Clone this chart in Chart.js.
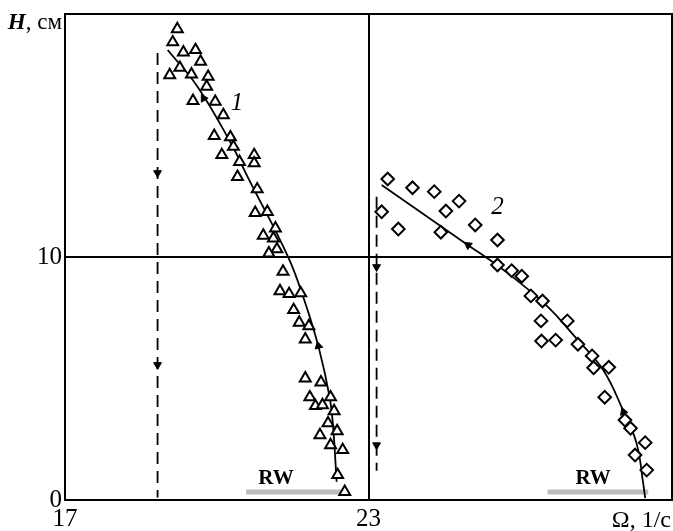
<!DOCTYPE html>
<html>
<head>
<meta charset="utf-8">
<script src="https://cdn.jsdelivr.net/npm/chart.js@4"></script>
<style>
  html, body { margin: 0; padding: 0; background: #fff; }
</style>
</head>
<body>
<canvas id="chart" width="673" height="531"></canvas>
<script>
// ===============================
// DATOS
// ===============================
const xTicks = [17, 23, 29];
const yTicks = [0, 10, 20];

// serie 1 (triángulos)
const triX = [19.22,19.13,19.34,19.58,19.68,19.27,19.07,19.50,19.83,19.80,19.53,19.97,20.13,19.95,20.27,20.33,20.10,20.45,20.41,20.74,20.74,20.80,20.76,21.00,21.16,20.92,21.12,21.19,21.03,21.31,21.25,21.43,21.66,21.52,21.63,21.82,21.75,21.75,22.06,21.84,22.25,21.95,22.09,22.32,22.20,22.38,22.04,22.25,22.49,22.39,22.53];
const triY = [19.38,18.84,18.42,18.52,18.04,17.79,17.49,17.52,17.42,17.01,16.43,16.39,15.84,14.99,14.93,14.54,14.20,13.92,13.30,14.20,13.86,12.79,11.82,11.86,11.18,10.88,10.77,10.32,10.15,9.40,8.60,8.48,8.51,7.82,7.30,7.16,6.61,5.01,4.84,4.23,4.23,3.87,3.91,3.66,3.16,2.84,2.67,2.26,2.06,1.03,0.34];

// serie 2 (rombos)
const diaX = [23.38,23.87,24.30,24.79,23.26,24.53,23.59,24.43,25.11,25.55,25.55,25.83,26.03,26.21,26.44,26.41,26.93,26.42,26.70,27.14,27.42,27.45,27.75,27.67,28.07,28.18,28.47,28.27,28.50];
const diaY = [13.21,12.85,12.69,12.30,11.86,11.89,11.15,11.02,11.32,10.70,9.67,9.44,9.21,8.40,8.19,7.37,7.37,6.54,6.58,6.41,5.93,5.44,5.46,4.23,3.29,2.95,2.36,1.85,1.23];

// curvas
const fit1X = [22.37,22.30,22.23,22.02,21.73,21.41,20.61,20.28,19.62,19.03];
const fit1Y = [0.75,3.02,4.25,6.24,8.23,10.01,13.30,14.68,17.01,18.52];
const fit2X = [23.26,24.92,25.71,26.51,27.11,27.64,28.03,28.30,28.43,28.47];
const fit2Y = [12.96,10.56,9.40,8.02,6.65,5.35,3.70,2.33,0.69,0.08];

// líneas discontinuas
const dash1X = [18.83, 18.83];
const dash1Y = [18.4, 0.1];
const dash2X = [23.16, 23.16];
const dash2Y = [12.48, 1.2];

// flechas
const arrowX = [19.74, 22.01, 18.83, 18.83, 23.16, 23.16, 24.97, 28.04];
const arrowY = [16.53, 6.34, 13.46, 5.56, 9.59, 2.26, 10.49, 3.63];
const arrowRot = [-30, -13, 180, 180, 180, 180, -54, -21];

// bandas RW
const rw1X = [20.58, 22.51];
const rw2X = [26.54, 28.53];
const rwY = 0.33;
const rwLabelX = [21.17, 27.44];
const rwLabelY = 0.9;

// etiquetas de curvas
const curveLabels = ["1", "2"];
const curveLabelX = [20.40, 25.55];
const curveLabelY = [16.34, 12.06];

// ===============================
// UTILIDADES
// ===============================
function pts(xs, ys) {
  return xs.map((x, i) => ({ x: x, y: ys[i] }));
}

const serif = "'Liberation Serif', 'DejaVu Serif', serif";

const extras = {
  id: "extras",
  afterDraw(chart) {
    const { ctx, chartArea: a, scales: { x, y } } = chart;
    ctx.save();
    ctx.strokeStyle = "#000";
    ctx.lineWidth = 2;
    ctx.strokeRect(a.left, a.top, a.right - a.left, a.bottom - a.top);

    ctx.fillStyle = "#000";
    ctx.textAlign = "center";
    ctx.textBaseline = "middle";
    ctx.font = "italic 25px " + serif;
    curveLabels.forEach((t, i) => {
      ctx.fillText(t, x.getPixelForValue(curveLabelX[i]), y.getPixelForValue(curveLabelY[i]));
    });

    ctx.font = "bold 21px " + serif;
    rwLabelX.forEach(v => ctx.fillText("RW", x.getPixelForValue(v), y.getPixelForValue(rwLabelY)));

    // título eje Y
    ctx.textAlign = "left";
    ctx.font = "italic bold 23px " + serif;
    const hW = ctx.measureText("H").width;
    ctx.font = "23px " + serif;
    const restW = ctx.measureText(", см").width;
    const startX = a.left - 3 - hW - restW;
    ctx.font = "italic bold 23px " + serif;
    ctx.fillText("H", startX, a.top + 9);
    ctx.font = "23px " + serif;
    ctx.fillText(", см", startX + hW, a.top + 9);

    // título eje X
    ctx.textAlign = "right";
    ctx.font = "24px " + serif;
    ctx.fillText("Ω, 1/с", a.right - 1, a.bottom + 21);
    ctx.restore();
  }
};

// ===============================
// GRÁFICO
// ===============================
new Chart(document.getElementById("chart"), {
  type: "scatter",
  data: {
    datasets: [
      {
        data: pts(triX, triY),
        pointStyle: "triangle",
        pointRadius: 6.3,
        borderColor: "#000",
        backgroundColor: "#fff",
        borderWidth: 2,
        order: 0
      },
      {
        data: pts(diaX, diaY),
        pointStyle: "rectRot",
        pointRadius: 6.3,
        borderColor: "#000",
        backgroundColor: "#fff",
        borderWidth: 2,
        order: 0
      },
      {
        data: pts(fit1X, fit1Y),
        showLine: true,
        tension: 0.4,
        pointRadius: 0,
        borderColor: "#000",
        borderWidth: 1.8,
        order: 2
      },
      {
        data: pts(fit2X, fit2Y),
        showLine: true,
        tension: 0.4,
        pointRadius: 0,
        borderColor: "#000",
        borderWidth: 1.8,
        order: 2
      },
      {
        data: pts(dash1X, dash1Y),
        showLine: true,
        pointRadius: 0,
        borderColor: "#000",
        borderWidth: 1.8,
        borderDash: [12, 7],
        order: 2
      },
      {
        data: pts(dash2X, dash2Y),
        showLine: true,
        pointRadius: 0,
        borderColor: "#000",
        borderWidth: 1.8,
        borderDash: [12, 7],
        order: 2
      },
      {
        data: pts(rw1X, [rwY, rwY]),
        showLine: true,
        pointRadius: 0,
        borderColor: "#bcbcbc",
        borderWidth: 5,
        order: 3
      },
      {
        data: pts(rw2X, [rwY, rwY]),
        showLine: true,
        pointRadius: 0,
        borderColor: "#bcbcbc",
        borderWidth: 5,
        order: 3
      },
      {
        data: pts(arrowX, arrowY),
        pointStyle: "triangle",
        pointRadius: 4.5,
        rotation: arrowRot,
        borderColor: "#000",
        backgroundColor: "#000",
        borderWidth: 1,
        order: 1
      }
    ]
  },
  options: {
    responsive: false,
    animation: false,
    layout: { autoPadding: false, padding: { top: 14, right: 1, left: 0, bottom: 0 } },
    plugins: { legend: { display: false }, tooltip: { enabled: false } },
    scales: {
      x: {
        type: "linear",
        min: 17,
        max: 29,
        afterBuildTicks: s => { s.ticks = xTicks.map(v => ({ value: v })); },
        afterFit: s => { s.height = 31; s.paddingLeft = 0; s.paddingRight = 0; },
        border: { display: false },
        grid: {
          drawTicks: false,
          lineWidth: 2,
          color: c => (c.tick && c.tick.value === 23 ? "#000" : "rgba(0,0,0,0)")
        },
        ticks: {
          padding: 4,
          maxRotation: 0,
          color: "#000",
          font: { family: serif, size: 25 },
          callback: v => (v === 29 ? "" : v)
        }
      },
      y: {
        min: 0,
        max: 20,
        afterBuildTicks: s => { s.ticks = yTicks.map(v => ({ value: v })); },
        afterFit: s => { s.width = 65; s.paddingTop = 0; s.paddingBottom = 0; },
        border: { display: false },
        grid: {
          drawTicks: false,
          lineWidth: 2,
          color: c => (c.tick && c.tick.value === 10 ? "#000" : "rgba(0,0,0,0)")
        },
        ticks: {
          padding: 3,
          color: "#000",
          font: { family: serif, size: 25 },
          callback: v => (v === 20 ? "" : v)
        }
      }
    }
  },
  plugins: [extras]
});
</script>
</body>
</html>
